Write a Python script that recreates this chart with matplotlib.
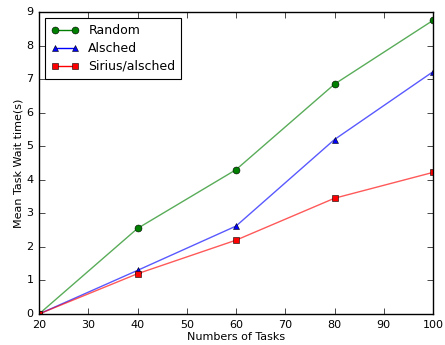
import matplotlib
matplotlib.use("Agg")
import matplotlib.pyplot as plt

tasks = [20, 40, 60, 80, 100]
random_vals = [0.0, 2.55, 4.30, 6.85, 8.75]
alsched_vals = [0.0, 1.30, 2.62, 5.20, 7.22]
sirius_vals = [0.0, 1.20, 2.20, 3.45, 4.22]
xticks = [20, 30, 40, 50, 60, 70, 80, 90, 100]
yticks = [0, 1, 2, 3, 4, 5, 6, 7, 8, 9]

plt.style.use('classic')
fig = plt.figure(figsize=(4.45, 3.45), dpi=100, facecolor='white')
ax = fig.add_axes([39/445, 1 - 314/345, (433-39)/445, (314-12)/345])

def series(vals, color, marker, label, ms):
    ax.plot(tasks, vals, color=color, alpha=0.65, lw=1.0)
    ax.plot(tasks, vals, color=color, marker=marker, ms=ms, lw=0, mec='black', mew=0.4)
    ax.plot([], [], color=color, marker=marker, ms=ms, lw=1.0, mec='black', mew=0.4, label=label)

series(random_vals, 'green', 'o', 'Random', 5)
series(alsched_vals, 'blue', '^', 'Alsched', 5)
series(sirius_vals, 'red', 's', 'Sirius/alsched', 5)

ax.set_xlim(20, 100)
ax.set_ylim(0, 9)
ax.set_xticks(xticks)
ax.set_yticks(yticks)
ax.tick_params(labelsize=8, direction='in', length=4)
ax.set_xlabel('Numbers of Tasks', fontsize=8, labelpad=2)
ax.set_ylabel('Mean Task Wait time(s)', fontsize=8, labelpad=2)
leg = ax.legend(loc='upper left', fontsize=9, numpoints=2, handlelength=2.2,
                borderpad=0.45, labelspacing=0.4, handletextpad=0.8)
leg.get_frame().set_linewidth(0.8)
fig.savefig('out.png', dpi=100, facecolor='white')
